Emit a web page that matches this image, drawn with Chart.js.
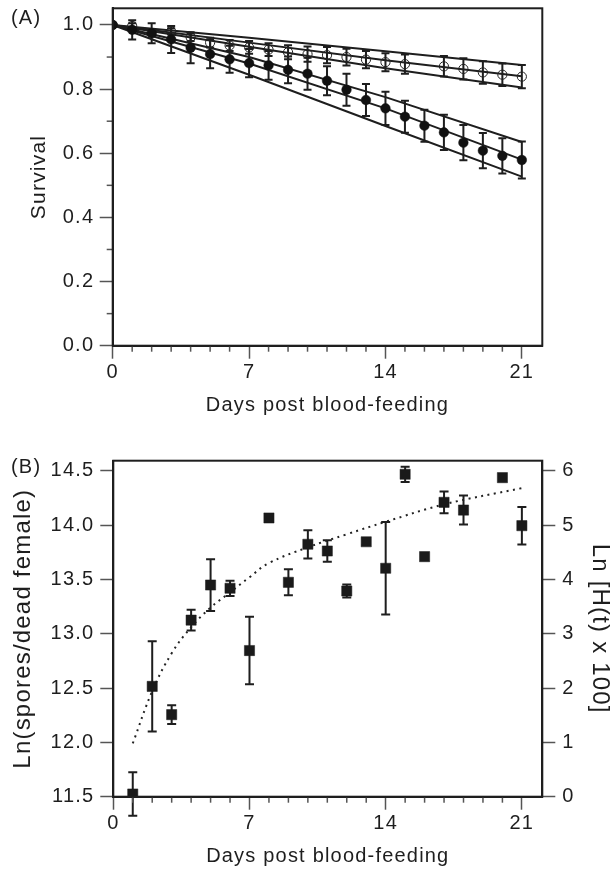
<!DOCTYPE html>
<html><head><meta charset="utf-8">
<script src="https://cdn.jsdelivr.net/npm/chart.js@4.4.1/dist/chart.umd.min.js"></script>
<style>
html,body{margin:0;padding:0;background:#fff;}
#wrap{position:relative;width:611px;height:869px;overflow:hidden;background:#fff;}
canvas{position:absolute;left:0;}
</style></head><body>
<div id="wrap">
<canvas id="ca" style="top:0px" width="611" height="420"></canvas>
<canvas id="cb" style="top:420px" width="611" height="449"></canvas>
</div>
<script>
// ---------------- Panel A data ----------------
const panelLabelA = '(A)';
const xTicksA = [0, 7, 14, 21];
const xMinorA = [1,2,3,4,5,6,8,9,10,11,12,13,15,16,17,18,19,20];
const yTicksA = [0, 0.2, 0.4, 0.6, 0.8, 1.0];
const yMinorA = [0.1, 0.3, 0.5, 0.7, 0.9];

const filledDays = [0,1,2,3,4,5,6,7,8,9,10,11,12,13,14,15,16,17,18,19,20,21];
const filledSurv = [1.0,0.985,0.974,0.955,0.929,0.909,0.893,0.881,0.874,0.860,0.848,0.826,0.798,0.766,0.740,0.714,0.686,0.665,0.633,0.608,0.592,0.579];
const filledErr  = [0,0.030,0.031,0.042,0.048,0.044,0.042,0.044,0.045,0.042,0.050,0.045,0.050,0.050,0.052,0.050,0.050,0.055,0.055,0.055,0.055,0.058];

const openDays = [0,1,3,4,5,6,7,8,9,10,11,12,13,14,15,17,18,19,20,21];
const openSurv = [1.0,0.997,0.980,0.962,0.945,0.936,0.930,0.923,0.915,0.909,0.906,0.900,0.892,0.884,0.878,0.871,0.863,0.852,0.845,0.839];
const openErr  = [0,0.008,0.010,0.012,0.015,0.017,0.020,0.020,0.022,0.024,0.025,0.026,0.027,0.028,0.030,0.032,0.033,0.035,0.035,0.036];

const fitDays = [0, 7, 14, 21];
const filledFitUpper = [1.0, 0.900, 0.775, 0.635];
const filledFitMid   = [1.0, 0.880, 0.740, 0.580];
const filledFitLower = [1.0, 0.845, 0.685, 0.527];
const openFitUpper   = [1.0, 0.960, 0.918, 0.875];
const openFitMid     = [1.0, 0.945, 0.890, 0.840];
const openFitLower   = [1.0, 0.932, 0.865, 0.805];

// ---------------- Panel B data ----------------
const panelLabelB = '(B)';
const xTicksB = [0, 7, 14, 21];
const xMinorB = [1,2,3,4,5,6,8,9,10,11,12,13,15,16,17,18,19,20];
const yTicksBLeft = [11.5, 12.0, 12.5, 13.0, 13.5, 14.0, 14.5];
const yTicksBRight = [0, 1, 2, 3, 4, 5, 6];

const sporeDays = [1,2,3,4,5,6,7,8,9,10,11,12,13,14,15,16,17,18,20,21];
const sporeLn   = [11.525,12.515,12.255,13.125,13.448,13.418,12.845,14.065,13.473,13.823,13.761,13.393,13.846,13.602,14.467,13.709,14.209,14.138,14.436,13.994];
const sporeErr  = [0.200,0.415,0.087,0.095,0.238,0.070,0.310,0,0.120,0.130,0.100,0.060,0.030,0.425,0.070,0,0.100,0.133,0,0.173];

const trendDays = [1,2,3,4,5,6,7,8,10,12,14,17,21];
const trendLn   = [11.99,12.47,12.82,13.06,13.24,13.38,13.52,13.65,13.795,13.915,14.03,14.19,14.34];

// ---------------- helpers ----------------
const FONT = '"Liberation Sans", Arial, Helvetica, sans-serif';
const INK = '#1e1e1e';
const TICKC = '#555';
const pts = (xs, ys) => xs.map((x, i) => ({x: x, y: ys[i]}));

const spacingPlugin = {
  id: 'spacing',
  beforeUpdate(c) { c.ctx.letterSpacing = '1.2px'; },
  beforeDraw(c) { c.ctx.letterSpacing = '1.2px'; }
};

const errorBarPlugin = {
  id: 'errorBars',
  beforeDatasetsDraw(chart) {
    const ctx = chart.ctx;
    chart.data.datasets.forEach((ds, i) => {
      if (!ds.errValues) return;
      const meta = chart.getDatasetMeta(i);
      const xs = chart.scales[meta.xAxisID], ys = chart.scales[meta.yAxisID];
      ctx.save();
      ctx.strokeStyle = INK;
      ctx.lineWidth = 2;
      ds.data.forEach((p, j) => {
        const e = ds.errValues[j];
        if (!e) return;
        const x = xs.getPixelForValue(p.x);
        const y1 = ys.getPixelForValue(p.y + e), y2 = ys.getPixelForValue(p.y - e);
        const cw = ds.capHalf;
        ctx.beginPath();
        ctx.moveTo(x, y1); ctx.lineTo(x, y2);
        ctx.moveTo(x - cw, y1); ctx.lineTo(x + cw, y1);
        ctx.moveTo(x - cw, y2); ctx.lineTo(x + cw, y2);
        ctx.stroke();
      });
      ctx.restore();
    });
  }
};

const framePlugin = {
  id: 'frame',
  afterDraw(chart, args, opts) {
    const ctx = chart.ctx, a = chart.chartArea;
    ctx.save();
    ctx.strokeStyle = TICKC; ctx.lineWidth = 1.5;
    (opts.minor || []).forEach(m => {
      const s = chart.scales[m.axis];
      m.values.forEach(v => {
        const p = s.getPixelForValue(v);
        ctx.beginPath();
        if (s.isHorizontal()) { ctx.moveTo(p, a.bottom); ctx.lineTo(p, a.bottom + m.len); }
        else { ctx.moveTo(a.left, p); ctx.lineTo(a.left - m.len, p); }
        ctx.stroke();
      });
    });
    ctx.strokeStyle = INK; ctx.lineWidth = 2;
    ctx.strokeRect(a.left, a.top, a.right - a.left, a.bottom - a.top);
    ctx.letterSpacing = '1.2px';
    ctx.fillStyle = INK;
    ctx.font = '20px ' + FONT;
    ctx.textAlign = 'left'; ctx.textBaseline = 'alphabetic';
    ctx.fillText(opts.label, opts.lx, opts.ly);
    ctx.restore();
  }
};

function fixScale(size) {
  return s => {
    if (s.isHorizontal()) s.height = size; else s.width = size;
    s.paddingTop = 0; s.paddingBottom = 0; s.paddingLeft = 0; s.paddingRight = 0;
  };
}
const tickFont = {family: FONT, size: 20};
const gridOpts = {display: true, drawOnChartArea: false, drawTicks: true, tickLength: 13, tickColor: TICKC, tickWidth: 1.5};
const borderOpts = {display: true, color: INK, width: 2};

function lineDS(ys) {
  return {data: pts(fitDays, ys), showLine: true, pointRadius: 0, borderColor: INK, borderWidth: 2, fill: false};
}

// ---------------- Chart A ----------------
new Chart(document.getElementById('ca'), {
  type: 'scatter',
  data: {
    datasets: [
      {data: pts(filledDays, filledSurv), errValues: filledErr, capHalf: 4, pointRadius: 4.8, pointStyle: 'circle',
       backgroundColor: '#111', borderColor: '#111', borderWidth: 0.5},
      {data: pts(openDays, openSurv), errValues: openErr, capHalf: 4, pointRadius: 4.6, pointStyle: 'circle',
       backgroundColor: 'rgba(255,255,255,0)', borderColor: '#222', borderWidth: 1},
      lineDS(filledFitUpper), lineDS(filledFitMid), lineDS(filledFitLower),
      lineDS(openFitUpper), lineDS(openFitMid), lineDS(openFitLower)
    ]
  },
  options: {
    responsive: false, animation: false, devicePixelRatio: 1, events: [],
    layout: {padding: {top: 8.3, right: 68.7, bottom: 0, left: 0}},
    plugins: {legend: {display: false}, tooltip: {enabled: false},
      frame: {label: panelLabelA, lx: 11, ly: 24,
        minor: [{axis: 'x', values: xMinorA, len: 6}, {axis: 'y', values: yMinorA, len: 6}]}},
    scales: {
      x: {type: 'linear', min: 0, max: 22.05,
        afterBuildTicks: s => { s.ticks = xTicksA.map(v => ({value: v})); },
        afterFit: fixScale(74.3),
        ticks: {font: tickFont, color: INK, padding: 2, maxRotation: 0, autoSkip: false, callback: v => String(v)},
        grid: gridOpts, border: borderOpts,
        title: {display: true, text: 'Days post blood-feeding', color: INK, font: {family: FONT, size: 20}, padding: {top: 0, bottom: 3}}},
      y: {type: 'linear', min: 0, max: 1.052,
        afterBuildTicks: s => { s.ticks = yTicksA.map(v => ({value: v})); },
        afterFit: fixScale(112.7),
        ticks: {font: tickFont, color: INK, padding: 5.5, autoSkip: false, callback: v => v.toFixed(1)},
        grid: gridOpts, border: borderOpts,
        title: {display: true, text: 'Survival', color: INK, font: {family: FONT, size: 21}, padding: {top: 27, bottom: 0}}}
    }
  },
  plugins: [spacingPlugin, errorBarPlugin, framePlugin]
});

// ---------------- Chart B ----------------
new Chart(document.getElementById('cb'), {
  type: 'scatter',
  data: {
    datasets: [
      {data: pts(sporeDays, sporeLn), errValues: sporeErr, capHalf: 4.5, pointRadius: 7.2, pointStyle: 'rect',
       backgroundColor: '#1a1a1a', borderColor: '#1a1a1a', borderWidth: 0.5},
      {data: pts(trendDays, trendLn), showLine: true, pointRadius: 0, borderColor: '#222', borderWidth: 2,
       borderDash: [2, 4.5], tension: 0.4, fill: false}
    ]
  },
  options: {
    responsive: false, animation: false, devicePixelRatio: 1, events: [],
    layout: {padding: {top: 40.7, right: 0, bottom: 0, left: 0}},
    plugins: {legend: {display: false}, tooltip: {enabled: false},
      frame: {label: panelLabelB, lx: 11, ly: 53,
        minor: [{axis: 'x', values: xMinorB, len: 6}]}},
    scales: {
      x: {type: 'linear', min: 0, max: 22.05,
        afterBuildTicks: s => { s.ticks = xTicksB.map(v => ({value: v})); },
        afterFit: fixScale(72.3),
        ticks: {font: tickFont, color: INK, padding: 2, maxRotation: 0, autoSkip: false, callback: v => String(v)},
        grid: gridOpts, border: borderOpts,
        title: {display: true, text: 'Days post blood-feeding', color: INK, font: {family: FONT, size: 20}, padding: {top: 0, bottom: 1}}},
      y: {type: 'linear', position: 'left', min: 11.5, max: 14.592,
        afterBuildTicks: s => { s.ticks = yTicksBLeft.map(v => ({value: v})); },
        afterFit: fixScale(113.3),
        ticks: {font: tickFont, color: INK, padding: 6, autoSkip: false, callback: v => v.toFixed(1)},
        grid: gridOpts, border: borderOpts,
        title: {display: true, text: 'Ln(spores/dead female)', color: INK, font: {family: FONT, size: 24}, padding: {top: 9, bottom: 0}}},
      y2: {type: 'linear', position: 'right', min: 0, max: 6.184,
        afterBuildTicks: s => { s.ticks = yTicksBRight.map(v => ({value: v})); },
        afterFit: fixScale(68.7),
        ticks: {font: tickFont, color: INK, padding: 7, autoSkip: false, callback: v => String(v)},
        grid: gridOpts, border: borderOpts,
        title: {display: true, text: 'Ln [H(t) x 100]', color: INK, font: {family: FONT, size: 24}, padding: {top: -3, bottom: 0}}}
    }
  },
  plugins: [spacingPlugin, errorBarPlugin, framePlugin]
});
</script>
</body></html>
